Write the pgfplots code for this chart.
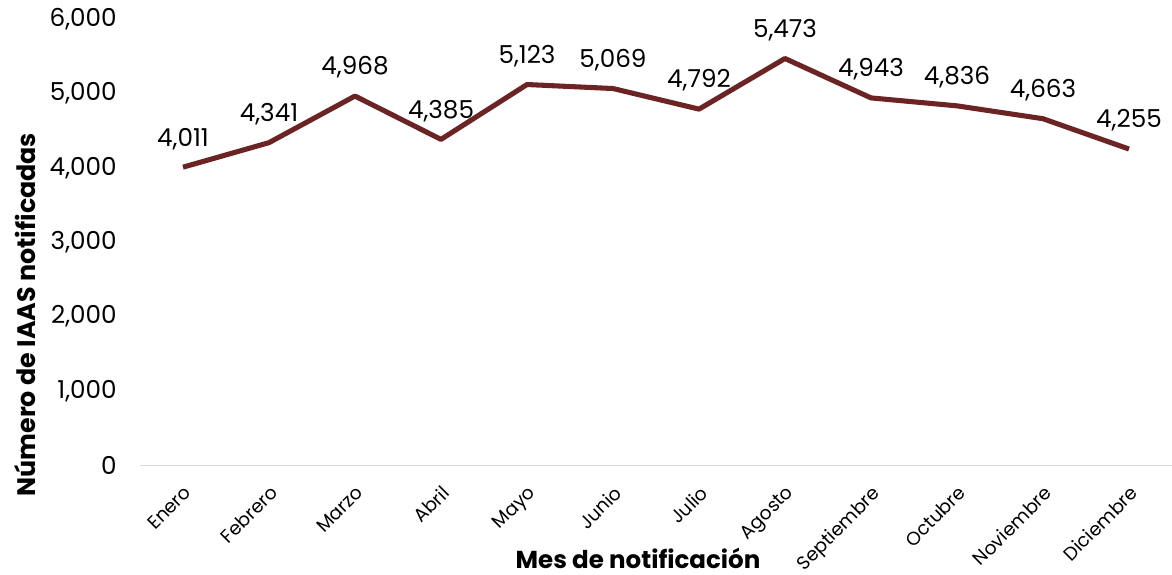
\documentclass[border=0pt]{standalone}
\usepackage{fontspec}
\setmainfont{Poppins}
\usepackage{pgfplots}
\pgfplotsset{compat=1.18}
\definecolor{linec}{HTML}{6B2323}
\begin{document}
\begin{tikzpicture}
\begin{axis}[
  at={(0,0)}, anchor=south west,
  scale only axis,
  width=774pt, height=334.5pt,
  xmin=-0.5, xmax=11.5, ymin=0, ymax=6000,
  axis x line*=bottom, axis y line*=left,
  x axis line style={draw=black!15, line width=1pt, -},
  y axis line style={draw=none},
  ytick={0,1000,...,6000},
  xtick={0,...,11},
  xticklabels={Enero,Febrero,Marzo,Abril,Mayo,Junio,Julio,Agosto,Septiembre,Octubre,Noviembre,Diciembre},
  x tick label style={rotate=45, anchor=north east, font=\fontsize{14}{16}\selectfont, inner sep=1pt, yshift=-9pt, xshift=-9pt},
  major tick length=0pt,
  ticklabel style={/pgf/number format/assume math mode=true},
  y tick label style={font=\fontsize{18.5}{20}\selectfont, /pgf/number format/1000 sep={,}, anchor=east, xshift=-14pt},
  xlabel={\bfseries Mes de notificación},
  ylabel={\bfseries Número de IAAS notificadas},
  every axis x label/.style={at={(373.5pt,-70pt)}, anchor=center, font=\fontsize{18.4}{20}\selectfont},
  every axis y label/.style={at={(-86pt,113pt)}, rotate=90, anchor=center, font=\fontsize{19}{21}\selectfont},
  nodes near coords,
  nodes near coords style={font=\fontsize{18.5}{20}\selectfont, /pgf/number format/assume math mode=true, /pgf/number format/1000 sep={,}, color=black, anchor=south, yshift=8pt},
  clip=false,
]
\addplot[color=linec, line width=3.8pt, mark=none, line join=round] coordinates {
(0,4011) (1,4341) (2,4968) (3,4385) (4,5123) (5,5069) (6,4792) (7,5473) (8,4943) (9,4836) (10,4663) (11,4255)
};
\end{axis}
\pgfresetboundingbox
\path (-105pt,-82pt) rectangle (774pt,349pt);
\end{tikzpicture}
\end{document}
